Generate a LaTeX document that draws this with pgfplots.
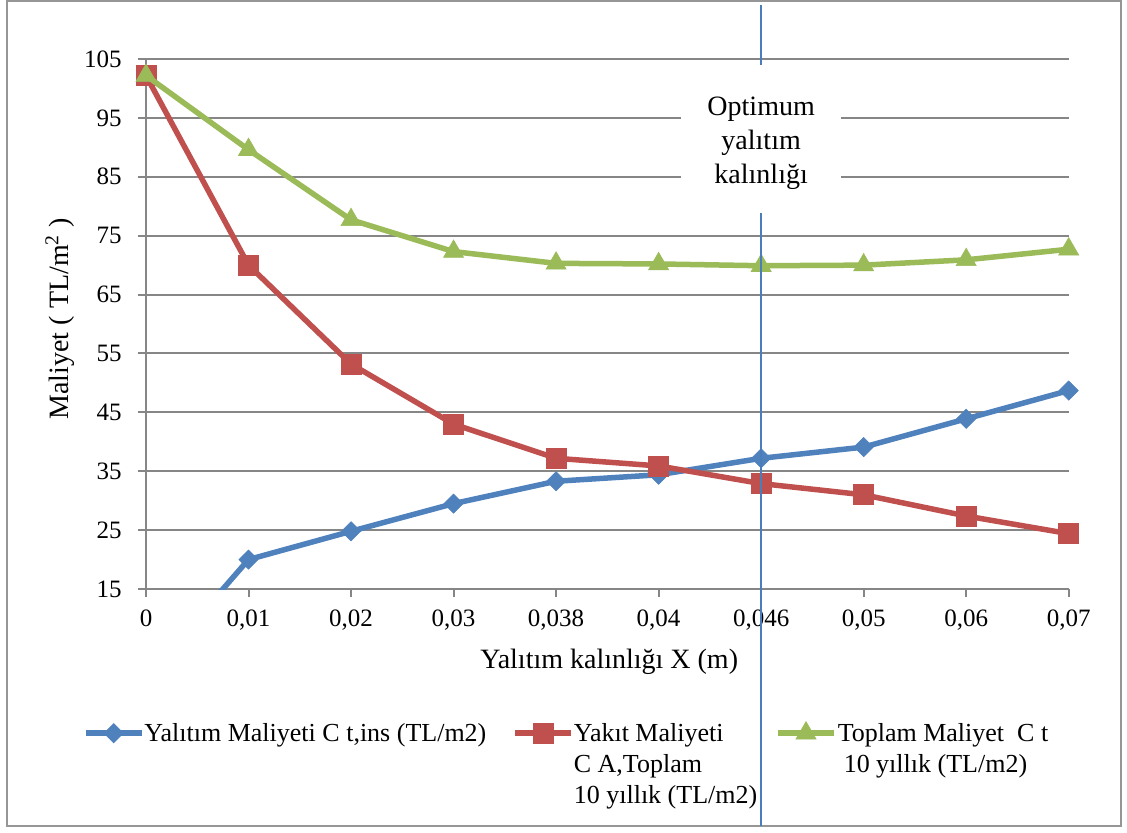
\documentclass[border=0pt]{standalone}
\usepackage{fontspec}
\setmainfont{Liberation Serif}
\usepackage{pgfplots}
\pgfplotsset{compat=1.18}
\definecolor{sblue}{RGB}{79,129,189}
\definecolor{sred}{RGB}{192,80,77}
\definecolor{sgreen}{RGB}{155,187,89}
\definecolor{vline}{RGB}{74,126,187}
\definecolor{gridc}{RGB}{134,134,134}
\definecolor{framec}{RGB}{150,150,150}
\begin{document}
\begin{tikzpicture}
\useasboundingbox (-73pt,-121.5pt) rectangle (490.5pt,294.5pt);
\draw[framec, line width=0.8pt] (-69.5pt,-118.5pt) rectangle (487.5pt,294pt);
\begin{axis}[
  at={(0pt,0pt)}, anchor=south west,
  scale only axis, width=461.35pt, height=265pt,
  xmin=0, xmax=9, ymin=15, ymax=105,
  xtick={0,1,2,3,4,5,6,7,8,9},
  xticklabels={{0},{0,01},{0,02},{0,03},{0,038},{0,04},{0,046},{0,05},{0,06},{0,07}},
  ytick={15,25,35,45,55,65,75,85,95,105},
  axis lines*=left,
  axis line style={gridc, line width=1pt, -},
  tick style={gridc, line width=1pt},
  tick align=outside,
  major tick length=4pt,
  ymajorgrids,
  grid style={gridc, line width=1pt},
  tick label style={font=\fontsize{12.5}{14}\selectfont, inner sep=0pt},
  yticklabel style={xshift=-8pt},
  xticklabel style={yshift=-6pt},
  /pgf/number format/assume math mode=true,
  clip mode=individual,
  xlabel={Yalıtım kalınlığı X (m)},
  ylabel={Maliyet ( TL/m\textsuperscript{2} )},
  every axis x label/.style={at={(axis description cs:0.502,-0.1377)}, anchor=center, font=\fontsize{14}{16}\selectfont},
  every axis y label/.style={at={(axis description cs:-0.093,0.51)}, rotate=90, anchor=center, font=\fontsize{14}{16}\selectfont},
  legend columns=3,
  legend style={at={(axis description cs:-0.0878,-0.2502)}, anchor=north west, draw=none, fill=none, inner sep=0pt, outer sep=0pt,
    column sep=0pt, row sep=0pt,
    cells={anchor=north west, align=left},
    nodes={inner sep=0pt, outer sep=0pt, text depth=0pt, align=left, font=\fontsize{13}{15.5}\selectfont},
    /tikz/every odd column/.style={column sep=0pt},
    /tikz/every even column/.style={column sep=0pt}},
]
\addplot[sblue, line width=2.75pt, mark=square*, mark size=3.4pt, mark options={rotate=45, solid, line width=0.3pt},
  legend image code/.code={\path (-9pt,-5pt) (27pt,-5pt);\draw[mark repeat=2,mark phase=2] plot coordinates {(0pt,-5pt) (14pt,-5pt) (28pt,-5pt)};}]
  coordinates {(0,0) (1,20.0) (2,24.8) (3,29.5) (4,33.3) (5,34.4) (6,37.2) (7,39.1) (8,43.9) (9,48.7)};
\addlegendentry{Yalıtım Maliyeti C t,ins (TL/m2)}
\addplot[sred, line width=2.75pt, mark=square*, mark size=5pt, mark options={solid, line width=0.3pt},
  legend image code/.code={\path (-13pt,-5pt) (21.5pt,-5pt);\draw[mark repeat=2,mark phase=2] plot coordinates {(0pt,-5pt) (14pt,-5pt) (28pt,-5pt)};}]
  coordinates {(0,102.2) (1,70.0) (2,53.2) (3,43.0) (4,37.2) (5,35.9) (6,32.9) (7,31.0) (8,27.4) (9,24.4)};
\addlegendentry{Yakıt Maliyeti\\C A,Toplam\\10 yıllık (TL/m2)}
\addplot[sgreen, line width=2.75pt, mark=triangle*, mark size=5.8pt, mark options={solid, line width=0.3pt},
  legend image code/.code={\path (-9pt,-5pt) (28.5pt,-5pt);\draw[mark repeat=2,mark phase=2] plot coordinates {(0pt,-5pt) (14pt,-5pt) (28pt,-5pt)};}]
  coordinates {(0,102.2) (1,89.6) (2,77.7) (3,72.3) (4,70.3) (5,70.2) (6,69.9) (7,70.0) (8,70.9) (9,72.7)};
\addlegendentry{Toplam Maliyet\ \ C t\\\hspace*{3pt}10 yıllık (TL/m2)}
\draw[vline, line width=0.8pt] (axis cs:6,114.2) -- (axis cs:6,-25.2);
\node[fill=white, minimum width=80pt, minimum height=74pt, inner sep=0pt] at (axis cs:6,91.4) {};
\node[align=center, font=\fontsize{14}{17}\selectfont, inner sep=0pt] at (axis cs:6,90.7) {Optimum\\yalıtım\\kalınlığı};
\end{axis}
\end{tikzpicture}
\end{document}
